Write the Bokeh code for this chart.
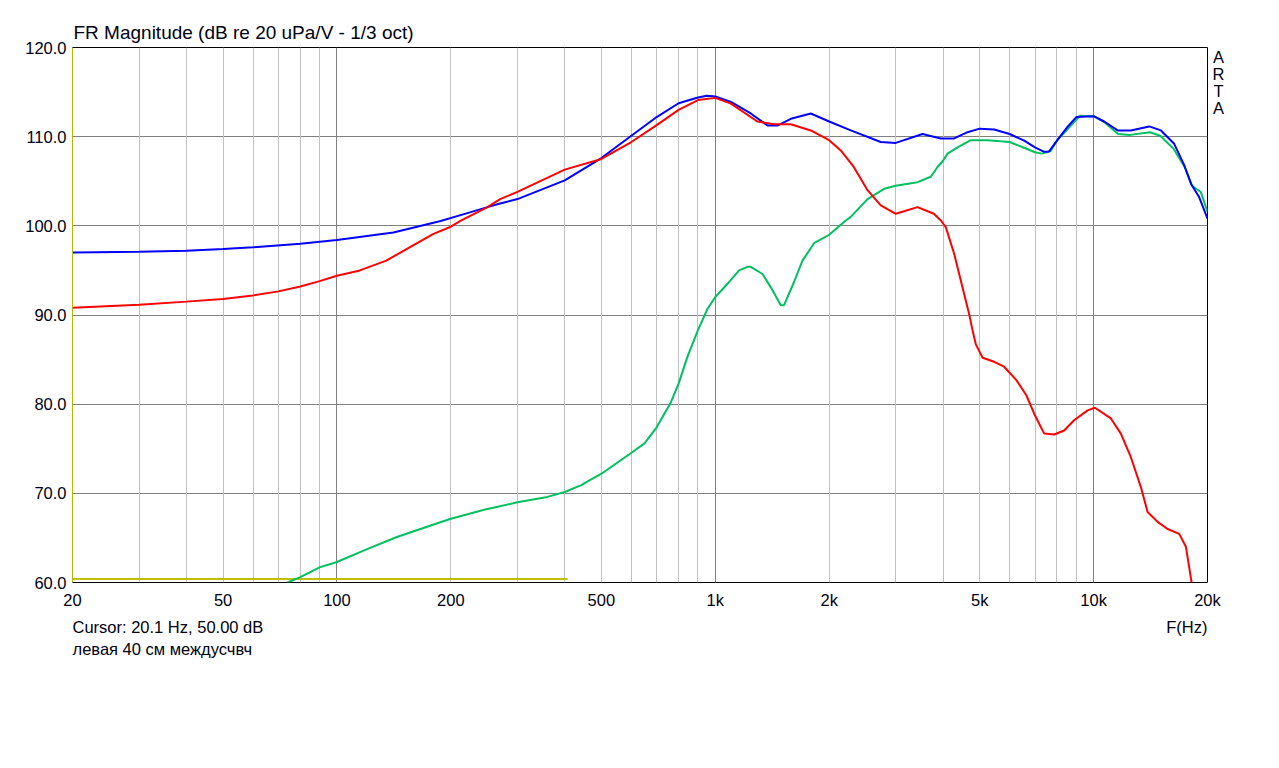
from bokeh.plotting import figure
from bokeh.models import Range1d, FixedTicker, Grid, Label, PrintfTickFormatter
from bokeh.embed import file_html
from bokeh.resources import INLINE

# ---------------- data ----------------
blue_f = [20, 30, 40, 50, 60, 80, 100, 141, 188, 220, 250, 270, 300, 400, 500, 600, 700,
          800, 900, 950, 1000, 1100, 1241, 1374, 1460, 1584, 1788, 2000, 2281, 2738, 3000,
          3530, 3946, 4278, 4643, 5000, 5460, 6000, 6554, 7000, 7402, 7629, 8000, 8531,
          9000, 10000, 10666, 11570, 12546, 14026, 15066, 16332, 17356, 18100, 19020, 20000]
blue_db = [97.0, 97.1, 97.2, 97.4, 97.6, 98.0, 98.4, 99.25, 100.55, 101.4, 102.1, 102.5,
           103.0, 105.1, 107.6, 110.1, 112.2, 113.75, 114.4, 114.6, 114.5, 113.9, 112.6,
           111.25, 111.25, 112.0, 112.6, 111.7, 110.7, 109.4, 109.3, 110.3, 109.8, 109.8,
           110.5, 110.9, 110.8, 110.3, 109.55, 108.8, 108.3, 108.35, 109.55, 111.1, 112.2,
           112.3, 111.7, 110.7, 110.7, 111.15, 110.7, 109.2, 106.8, 104.7, 103.2, 100.8]

red_f = [20, 30, 40, 50, 60, 70, 80, 90, 100, 115, 135, 156, 180, 200, 212, 250, 270, 300,
         400, 500, 600, 700, 800, 900, 1000, 1100, 1292, 1427, 1584, 1788, 2000, 2146, 2323,
         2526, 2738, 3000, 3424, 3782, 3946, 4067, 4278, 4502, 4688, 4786, 4884, 5088, 5460,
         5800, 6250, 6640, 6970, 7402, 7866, 8358, 8882, 9638, 10078, 11108, 11804, 12546,
         13334, 13888, 14762, 15688, 16838, 17538, 17892, 18156]
red_db = [90.8, 91.15, 91.5, 91.8, 92.2, 92.65, 93.2, 93.8, 94.4, 95.0, 96.1, 97.6, 99.1,
          99.9, 100.55, 102.1, 103.0, 103.8, 106.3, 107.5, 109.4, 111.3, 113.0, 114.1,
          114.35, 113.7, 111.7, 111.4, 111.4, 110.7, 109.6, 108.45, 106.6, 104.0, 102.3,
          101.35, 102.1, 101.35, 100.6, 99.85, 96.9, 93.1, 90.1, 88.3, 86.7, 85.2, 84.75,
          84.2, 82.7, 81.0, 78.9, 76.7, 76.6, 77.05, 78.2, 79.3, 79.6, 78.4, 76.7, 74.05,
          70.7, 67.9, 66.8, 66.0, 65.45, 64.0, 61.7, 60.0]

green_f = [74, 80, 90, 100, 118, 144, 177, 200, 245, 300, 360, 400, 441, 500, 598, 650,
           700, 717, 763, 800, 844, 900, 954, 1000, 1077, 1156, 1216, 1241, 1333, 1402,
           1490, 1520, 1615, 1700, 1824, 2000, 2213, 2281, 2526, 2794, 3000, 3424, 3712,
           3868, 4000, 4110, 4368, 4736, 5242, 6000, 6600, 7000, 7300, 7700, 8000, 8600,
           9200, 10000, 10700, 11600, 12500, 14100, 15000, 16300, 17400, 18200, 19200, 20000]
green_db = [60.0, 60.6, 61.7, 62.3, 63.6, 65.1, 66.4, 67.15, 68.15, 69.0, 69.6, 70.15,
            70.9, 72.2, 74.5, 75.6, 77.4, 78.2, 80.2, 82.3, 85.3, 88.3, 90.7, 92.0, 93.5,
            95.0, 95.4, 95.4, 94.6, 93.1, 91.1, 91.1, 93.7, 96.1, 98.05, 99.0, 100.6, 101.0,
            103.0, 104.15, 104.5, 104.9, 105.5, 106.6, 107.3, 108.1, 108.8, 109.6, 109.6,
            109.4, 108.7, 108.25, 108.1, 108.4, 109.55, 111.0, 112.35, 112.3, 111.6, 110.3,
            110.2, 110.5, 110.1, 108.6, 106.6, 104.5, 103.8, 101.6]

yellow_f = [20, 407]
yellow_db = [60.4, 60.4]

x_ticks = [20, 50, 100, 200, 500, 1000, 2000, 5000, 10000, 20000]
x_tick_labels = ["20", "50", "100", "200", "500", "1k", "2k", "5k", "10k", "20k"]
y_ticks = [60, 70, 80, 90, 100, 110, 120]

title_text = "FR Magnitude (dB re 20 uPa/V - 1/3 oct)"
cursor_text = "Cursor: 20.1 Hz, 50.00 dB"
name_text = "левая 40 см междусчвч"
xlabel_text = "F(Hz)"
brand_letters = ["A", "R", "T", "A"]

FONT = "Liberation Sans"
TXT = "#000010"

p = figure(width=1275, height=760, x_axis_type="log",
           x_range=Range1d(20, 20000), y_range=Range1d(60, 120),
           output_backend="svg", toolbar_location=None,
           min_border_left=72, min_border_right=68, min_border_top=47,
           min_border_bottom=178)
p.background_fill_color = "white"
p.border_fill_color = "white"
p.outline_line_color = "black"
p.outline_line_width = 1

# axes
p.xaxis.ticker = FixedTicker(ticks=x_ticks, minor_ticks=[])
p.xaxis.major_label_overrides = {t: l for t, l in zip(x_ticks, x_tick_labels)}
p.yaxis.ticker = FixedTicker(ticks=y_ticks, minor_ticks=[])
p.yaxis.formatter = PrintfTickFormatter(format="%.1f")
for ax in (p.xaxis[0], p.yaxis[0]):
    ax.major_tick_line_color = None
    ax.minor_tick_line_color = None
    ax.major_tick_out = 0
    ax.major_tick_in = 0
    ax.major_label_text_font = FONT
    ax.major_label_text_font_size = "16.5px"
    ax.major_label_text_color = TXT
p.xaxis.axis_line_color = None
p.yaxis.axis_line_color = "#b8b800"
p.yaxis.axis_line_width = 1
p.xaxis.major_label_standoff = 8
p.yaxis.major_label_standoff = 6

# grids
p.xgrid.visible = False
p.ygrid.grid_line_color = "#808080"
p.ygrid.grid_line_width = 1
minor_grid = [m * 10 ** k for k in range(1, 5) for m in range(2, 10) if 20 < m * 10 ** k < 20000]
decade_grid = [100, 1000, 10000]
p.add_layout(Grid(dimension=0, ticker=FixedTicker(ticks=minor_grid), grid_line_color="#c0c0c0"))
p.add_layout(Grid(dimension=0, ticker=FixedTicker(ticks=decade_grid), grid_line_color="#808080"))

# curves
p.line(yellow_f, yellow_db, line_color="#c0c000", line_width=2)
p.line(green_f, green_db, line_color="#00c060", line_width=2)
p.line(blue_f, blue_db, line_color="#0000ff", line_width=2)
p.line(red_f, red_db, line_color="#ff0000", line_width=2)

# texts in side panels (not clipped), anchored to the frame's scales
X0, X1 = p.x_range.start, p.x_range.end
Y0, Y1 = p.y_range.start, p.y_range.end

def lab(side, text, x, y, xo, yo, align="left", size="16.5px"):
    p.add_layout(Label(x=x, y=y, x_offset=xo, y_offset=yo, text=text, text_font=FONT,
                       text_font_size=size, text_color=TXT, text_align=align,
                       text_baseline="bottom"), side)

lab("above", title_text, X0, Y1, 1, 4.5, size="19px")
lab("below", cursor_text, X0, Y0, 0, -53)
lab("below", xlabel_text, X1, Y0, 0, -53, align="right")
lab("below", name_text, X0, Y0, 0, -75)
for i, ch in enumerate(brand_letters):
    lab("right", ch, X1, Y1, 11, -18 - 17.2 * i, align="center")

open("out.html", "w").write(file_html(p, INLINE))
